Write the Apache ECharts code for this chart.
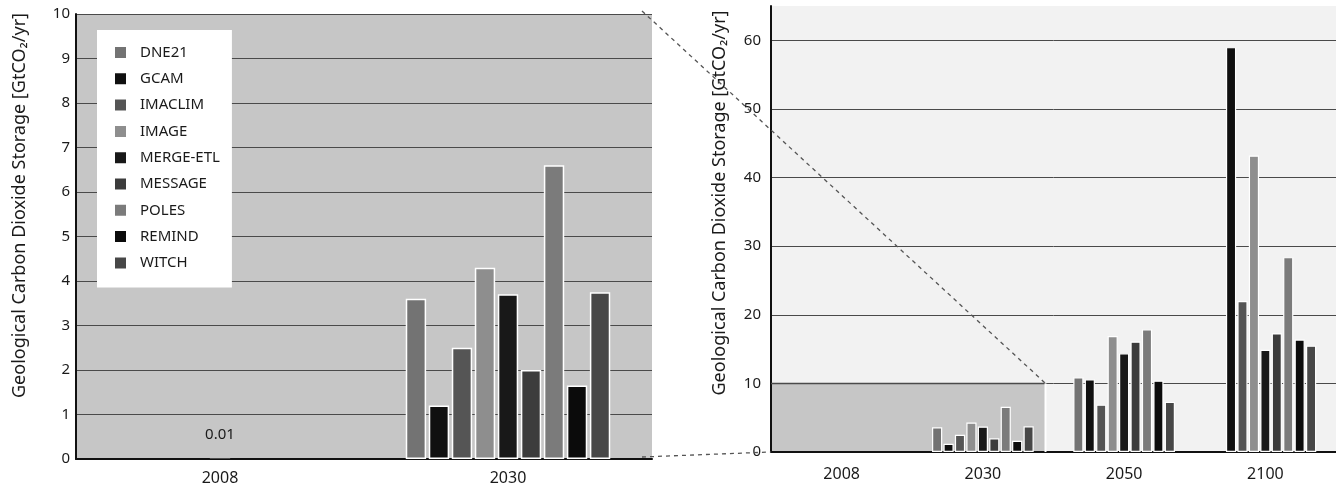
<!DOCTYPE html>
<html>
<head>
<meta charset="utf-8">
<script src="https://cdn.jsdelivr.net/npm/echarts@6/dist/echarts.min.js"></script>
<style>
  html, body { margin: 0; padding: 0; background: #ffffff; }
  #chart { width: 1336px; height: 490px; }
</style>
</head>
<body>
<div id="chart"></div>
<script>
// Models and their bar shades
const models = ['DNE21', 'GCAM', 'IMACLIM', 'IMAGE', 'MERGE-ETL', 'MESSAGE', 'POLES', 'REMIND', 'WITCH'];
const modelColors = ['#737373', '#101010', '#555555', '#8e8e8e', '#181818', '#3c3c3c', '#7b7b7b', '#0b0b0b', '#474747'];

// Years on the two panels
const detailYears = ['2008', '2030'];
const fullYears = ['2008', '2030', '2050', '2100'];

// Geological CO2 storage, GtCO2/yr, per model
const storage2030 = [3.6, 1.2, 2.5, 4.3, 3.7, 2.0, 6.6, 1.65, 3.75];
const storage2050 = [10.9, 10.6, 6.9, 16.9, 14.4, 16.1, 17.9, 10.4, 7.3];
const storage2100 = [null, 59, 22, 43.2, 14.9, 17.3, 28.4, 16.4, 15.5];
const storage2008 = 0.01;

// Value axis ranges (min, max, step)
const detailAxis = { min: 0, max: 10, interval: 1 };
const fullAxis = { min: 0, max: 65, interval: 10 };
const zoomTop = 10;   // upper bound of the magnified range

const axisTitle = 'Geological Carbon Dioxide Storage [GtCO\u2082/yr]';
const FONT = 'Noto Sans';
const INK = '#1a1a1a';

// Layout
const L = { left: 76, top: 14, width: 576, height: 445 };
const R = { left: 771, top: 6, width: 578, height: 446 };

const chart = echarts.init(document.getElementById('chart'));

const barCommon = {
  type: 'bar',
  barGap: '13%',
  barCategoryGap: '29%',
  itemStyle: { borderColor: '#ffffff', borderWidth: 1.5 },
  emphasis: { disabled: true }
};

const series = [];
models.forEach((name, i) => {
  series.push(Object.assign({}, barCommon, {
    name: name,
    xAxisIndex: 0, yAxisIndex: 0,
    stack: 'slot' + i,
    itemStyle: Object.assign({}, barCommon.itemStyle, { color: modelColors[i] }),
    data: ['-', storage2030[i]]
  }));
});
// 2008 total, sharing the middle slot
series.push({
  type: 'bar',
  name: '2008',
  xAxisIndex: 0, yAxisIndex: 0,
  stack: 'slot4',
  barGap: '13%',
  barCategoryGap: '29%',
  itemStyle: { color: '#9a9a9a', borderWidth: 0 },
  emphasis: { disabled: true },
  label: {
    show: true, position: 'top', distance: 16,
    fontFamily: FONT, fontSize: 15, color: INK,
    formatter: p => String(p.value)
  },
  data: [storage2008, '-']
});
models.forEach((name, i) => {
  series.push(Object.assign({}, barCommon, {
    name: name,
    xAxisIndex: 1, yAxisIndex: 1,
    barGap: '12%',
    barCategoryGap: '28%',
    itemStyle: Object.assign({}, barCommon.itemStyle, { color: modelColors[i], borderWidth: 1.2 }),
    data: ['-', storage2030[i], storage2050[i], storage2100[i] == null ? '-' : storage2100[i]]
  }));
});

const axisLabelStyle = { fontFamily: FONT, fontSize: 15, color: INK };
const gridLine = { show: true, lineStyle: { color: '#4a4a4a', width: 1 } };

chart.setOption({
  animation: false,
  backgroundColor: '#ffffff',
  textStyle: { fontFamily: FONT },
  grid: [
    Object.assign({ show: true, backgroundColor: '#c6c6c6', borderWidth: 0 }, L),
    Object.assign({ show: true, backgroundColor: '#f2f2f2', borderWidth: 0 }, R)
  ],
  legend: {
    data: models,
    orient: 'vertical',
    left: 97, top: 30,
    backgroundColor: '#ffffff',
    padding: [15, 12, 17, 16],
    itemGap: 11.3,
    itemWidth: 13, itemHeight: 13,
    icon: 'rect',
    selectedMode: false,
    textStyle: { fontFamily: FONT, fontSize: 15, color: INK, padding: [0, 0, 0, 8] }
  },
  xAxis: [
    {
      type: 'category', gridIndex: 0, data: detailYears,
      axisLine: { lineStyle: { color: '#111111', width: 2 } },
      axisTick: { show: false },
      axisLabel: Object.assign({}, axisLabelStyle, { fontSize: 16, margin: 11 })
    },
    {
      type: 'category', gridIndex: 1, data: fullYears,
      axisLine: { lineStyle: { color: '#111111', width: 2 } },
      axisTick: { show: false },
      axisLabel: Object.assign({}, axisLabelStyle, { fontSize: 16, margin: 14 })
    }
  ],
  yAxis: [
    {
      type: 'value', gridIndex: 0,
      min: detailAxis.min, max: detailAxis.max, interval: detailAxis.interval,
      axisLine: { show: true, lineStyle: { color: '#111111', width: 2 } },
      axisTick: { show: false },
      axisLabel: Object.assign({}, axisLabelStyle, { margin: 6 }),
      splitLine: gridLine,
      name: axisTitle, nameLocation: 'middle', nameRotate: 90, nameGap: 47,
      nameTextStyle: { fontFamily: FONT, fontSize: 18, color: INK, padding: [0, 0, 0, 62] }
    },
    {
      type: 'value', gridIndex: 1,
      min: fullAxis.min, max: fullAxis.max, interval: fullAxis.interval,
      axisLine: { show: true, lineStyle: { color: '#111111', width: 2 } },
      axisTick: { show: false },
      axisLabel: Object.assign({}, axisLabelStyle, { margin: 10, showMaxLabel: false }),
      splitLine: Object.assign({ showMaxLine: false }, gridLine),
      name: axisTitle, nameLocation: 'middle', nameRotate: 90, nameGap: 42,
      nameTextStyle: { fontFamily: FONT, fontSize: 18, color: INK, padding: [0, 0, 0, 52] }
    }
  ],
  series: series
});

// Magnified range on the full panel and the connector lines
function drawZoomFrame() {
  const c2030 = chart.convertToPixel({ xAxisIndex: 1 }, '2030');
  const c2050 = chart.convertToPixel({ xAxisIndex: 1 }, '2050');
  const boxRight = c2030 + (c2050 - c2030) / 2 - 8;
  const yTop = chart.convertToPixel({ yAxisIndex: 1 }, zoomTop);
  const yZero = chart.convertToPixel({ yAxisIndex: 1 }, 0);
  const leftRight = L.left + L.width - 10;
  const leftTop = chart.convertToPixel({ yAxisIndex: 0 }, detailAxis.max);
  const leftZero = chart.convertToPixel({ yAxisIndex: 0 }, 0);
  const dash = { stroke: '#555555', lineWidth: 1.3, lineDash: [4, 4] };
  chart.setOption({
    graphic: [
      { type: 'rect', z: 1, silent: true,
        shape: { x: R.left + 1, y: yTop, width: boxRight - R.left - 1, height: yZero - yTop - 1 },
        style: { fill: '#c6c6c6' } },
      { type: 'line', z: 1, silent: true,
        shape: { x1: R.left, y1: yTop, x2: boxRight, y2: yTop },
        style: { stroke: '#4a4a4a', lineWidth: 1.5 } },
      { type: 'line', z: 1, silent: true,
        shape: { x1: boxRight, y1: yTop, x2: boxRight, y2: yZero },
        style: { stroke: '#ffffff', lineWidth: 2 } },
      { type: 'line', z: 20, silent: true,
        shape: { x1: leftRight, y1: leftTop - 3, x2: boxRight, y2: yTop },
        style: dash },
      { type: 'line', z: 20, silent: true,
        shape: { x1: leftRight, y1: leftZero - 2, x2: R.left, y2: yZero },
        style: dash }
    ]
  });
}
drawZoomFrame();
</script>
</body>
</html>
